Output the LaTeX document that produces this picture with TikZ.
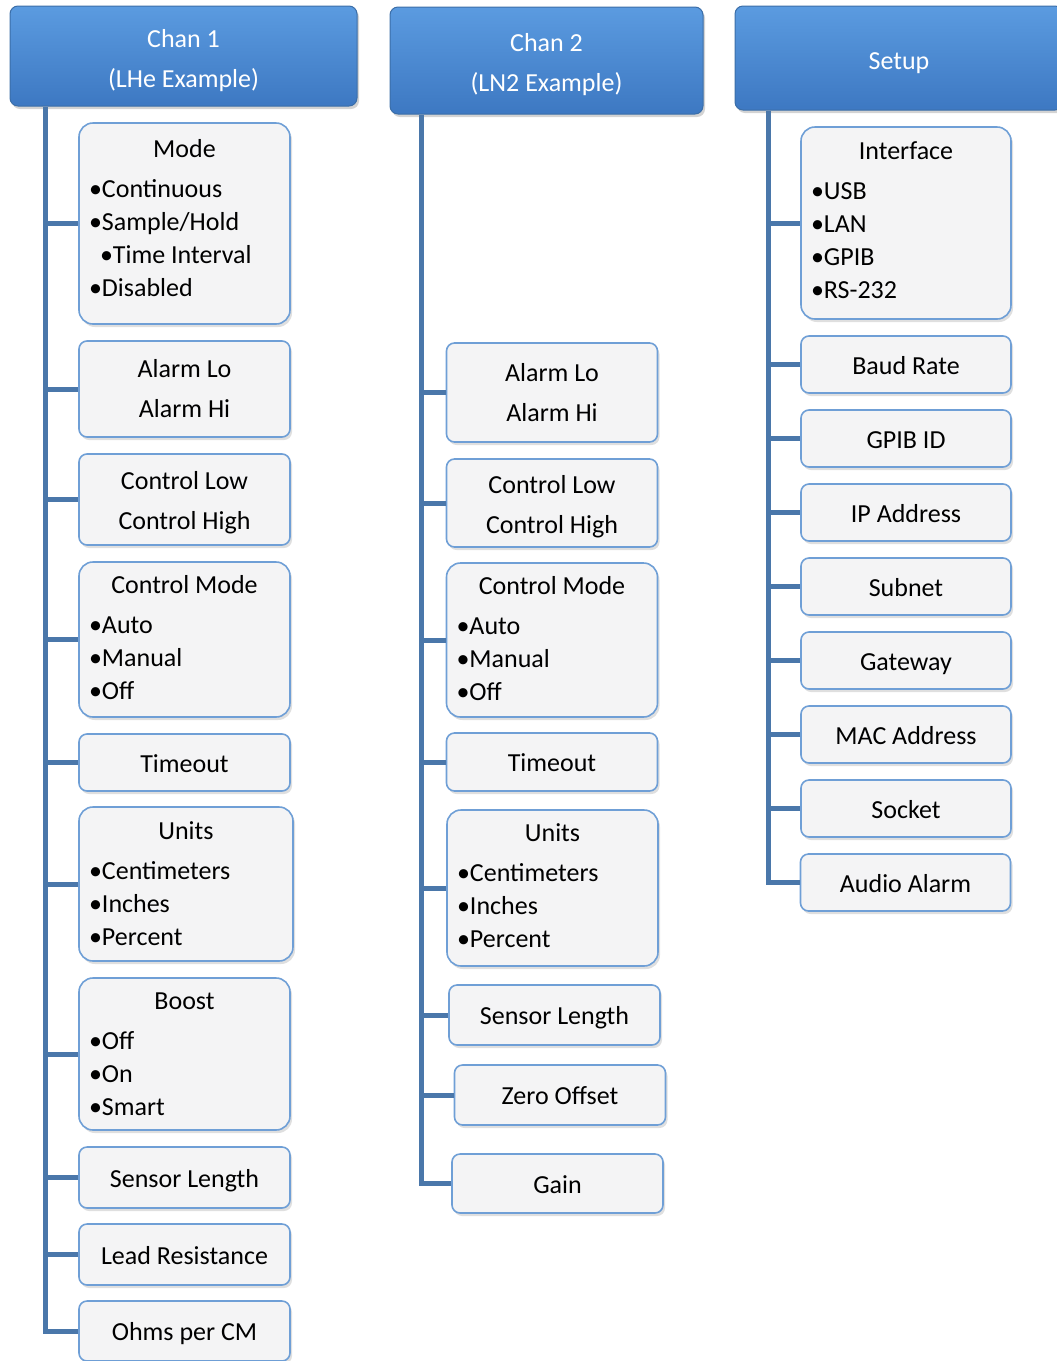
\documentclass[tikz,border=0pt]{standalone}
\usepackage{fontspec}
\setmainfont{Carlito}
\usetikzlibrary{shadows}

\definecolor{headtop}{HTML}{5B9BE0}
\definecolor{headbot}{HTML}{3D78C2}
\definecolor{headline}{HTML}{3B6EA8}
\definecolor{itemline}{HTML}{6F9FD6}
\definecolor{itemfill}{HTML}{F4F4F5}
\definecolor{linkblue}{HTML}{4A77AA}

\tikzset{
  head/.style={draw=headline, line width=1pt, rounded corners=8pt, top color=headtop,
    bottom color=headbot, text=white, align=center, inner sep=0pt,
    drop shadow={opacity=0.35, shadow xshift=2pt, shadow yshift=-3pt}},
  item/.style={draw=itemline, line width=1.6pt, rounded corners=8pt, fill=itemfill,
    minimum width=211pt, align=center, inner sep=0pt,
    drop shadow={opacity=0.25, shadow xshift=2pt, shadow yshift=-3pt}},
  one/.style={item, text height=19pt, text depth=0pt},
  list/.style={item, rounded corners=14pt, text width=191pt, align=flush left},
  link/.style={draw=linkblue, line width=5pt},
}
\newcommand{\ttl}[1]{\makebox[\linewidth][c]{#1}\\[7pt]}
\newcommand{\up}[1]{\\[#1]\mbox{}}

\begin{document}
\begin{tikzpicture}[x=1pt, y=-1pt, font=\fontsize{26}{33}\selectfont]
    \useasboundingbox (0,0) rectangle (1057,1361);

    % column heads
    \node[head, minimum width=347, minimum height=100] (chan1) at (183.5,56) {\rule{0pt}{27pt}Chan 1\\[7pt](LHe Example)};
    \node[head, minimum width=313, minimum height=107] (chan2) at (546.5,60.5) {\rule{0pt}{26pt}Chan 2\\[7pt](LN2 Example)};
    \node[head, minimum width=328, minimum height=104] (setup) at (899,58) {\rule{0pt}{27pt}Setup};

    %%%%%%%%%%%%%%%%%%%%%%%%%%%%%%%%%%%%%%%%%%
    % Chan 1
    \node[list, minimum height=201] (mode1) at (184.5,223.5) {\ttl{Mode}%
        •Continuous\\ •Sample/Hold\\ \hspace*{11pt}•Time Interval\\ •Disabled\up{-21pt}};
    \node[item, minimum height=96] (alarm1) at (184.5,389) {Alarm Lo\\[7pt]Alarm Hi};
    \node[item, minimum height=91] (ctrl1) at (184.5,499.5) {\rule{0pt}{25pt}Control Low\\[7pt]Control High};
    \node[list, minimum height=155] (cmode1) at (184.5,639.5) {\ttl{Control Mode}%
        •Auto\\ •Manual\\ •Off\up{-29pt}};
    \node[one, minimum height=57] (tout1) at (184.5,762.5) {Timeout};
    \node[list, minimum width=214, text width=194, minimum height=154] (units1) at (186,884) {\ttl{Units}%
        •Centimeters\\ •Inches\\ •Percent};
    \node[list, minimum height=152] (boost1) at (184.5,1054) {\ttl{Boost}%
        •Off\\ •On\\ •Smart};
    \node[one, minimum height=61] (slen1) at (184.5,1177.5) {Sensor Length};
    \node[one, minimum height=61] (lres1) at (184.5,1254.5) {Lead Resistance};
    \node[one, minimum height=60] (ohms1) at (184.5,1331) {Ohms per CM};

    %%%%%%%%%%%%%%%%%%%%%%%%%%%%%%%%%%%%%%%%%%
    % Chan 2
    \node[item, minimum height=99] (alarm2) at (552,392.5) {Alarm Lo\\[7pt]Alarm Hi};
    \node[item, minimum height=88] (ctrl2) at (552,503) {\rule{0pt}{25pt}Control Low\\[7pt]Control High};
    \node[list, minimum height=154] (cmode2) at (552,640) {\ttl{Control Mode}%
        •Auto\\ •Manual\\ •Off\up{-30pt}};
    \node[one, minimum height=58] (tout2) at (552,762) {Timeout};
    \node[list, minimum height=156] (units2) at (552.5,888) {\ttl{Units}%
        •Centimeters\\ •Inches\\ •Percent\up{-29pt}};
    \node[one, minimum height=60] (slen2) at (554.5,1015) {Sensor Length};
    \node[one, minimum height=60] (zero2) at (560,1095) {Zero Offset};
    \node[one, minimum height=59] (gain2) at (557.5,1183.5) {Gain};

    %%%%%%%%%%%%%%%%%%%%%%%%%%%%%%%%%%%%%%%%%%
    % Setup
    \node[list, minimum width=210, text width=190, minimum height=192] (iface) at (906,223) {\ttl{Interface}%
        •USB\\ •LAN\\ •GPIB\\ •RS-232\up{-27pt}};
    \node[one, minimum width=210, minimum height=57] (baud) at (906,364.5) {Baud Rate};
    \node[one, minimum width=210, minimum height=57] (gpib) at (906,438.5) {GPIB ID};
    \node[one, minimum width=210, minimum height=57] (ipaddr) at (906,512.5) {IP Address};
    \node[one, minimum width=210, minimum height=57] (subnet) at (906,586.5) {Subnet};
    \node[one, minimum width=210, minimum height=57] (gateway) at (906,660.5) {Gateway};
    \node[one, minimum width=210, minimum height=57] (mac) at (906,734.5) {MAC Address};
    \node[one, minimum width=210, minimum height=57] (socket) at (906,808.5) {Socket};
    \node[one, minimum width=210, minimum height=57] (audio) at (905.5,882.5) {Audio Alarm};

    % trunks and branches
    \coordinate (t1) at (chan1.south -| 45,0);
    \coordinate (t2) at (chan2.south -| 421,0);
    \coordinate (t3) at (setup.south -| 768,0);
    \draw[link] (t1) |- (ohms1.west);
    \draw[link] (t2) |- (gain2.west);
    \draw[link] (t3) |- (audio.west);
    \foreach \n in {mode1,alarm1,ctrl1,cmode1,tout1,units1,boost1,slen1,lres1}
        \draw[link] (\n.west) -- (\n.west -| t1);
    \foreach \n in {alarm2,ctrl2,cmode2,tout2,units2,slen2,zero2}
        \draw[link] (\n.west) -- (\n.west -| t2);
    \foreach \n in {iface,baud,gpib,ipaddr,subnet,gateway,mac,socket}
        \draw[link] (\n.west) -- (\n.west -| t3);
\end{tikzpicture}
\end{document}
